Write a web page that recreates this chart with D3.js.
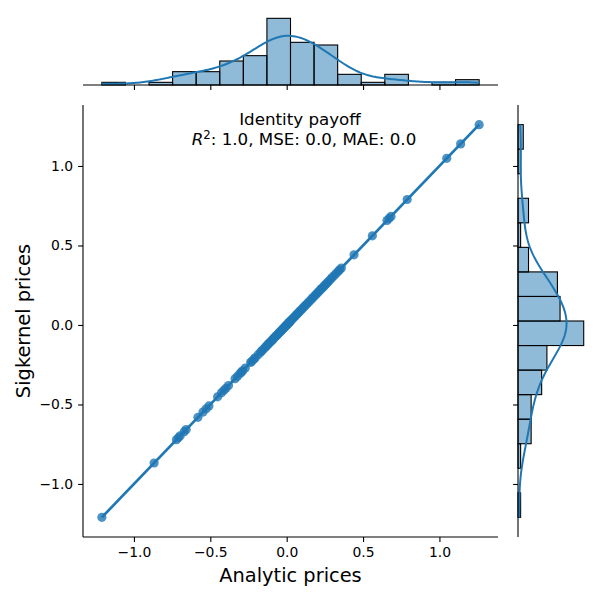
<!DOCTYPE html>
<html>
<head>
<meta charset="utf-8">
<script src="https://cdn.jsdelivr.net/npm/d3@7"></script>
<style>
body { margin: 0; background: #fff; }
text { font-family: "DejaVu Sans", sans-serif; }
</style>
</head>
<body>
<div id="container"></div>
<script>
var analyticPrices = [
	-1.210, -0.868,
	-0.722, -0.709, -0.697, -0.671, -0.658,
	-0.581, -0.548, -0.527, -0.509, -0.452,
	-0.427, -0.411, -0.398, -0.381, -0.338, -0.322, -0.305, -0.296, -0.288,
	-0.271, -0.236, -0.228, -0.214, -0.206, -0.187, -0.171, -0.162, -0.153, -0.141, -0.133,
	-0.124, -0.117, -0.109, -0.102, -0.094, -0.088, -0.079, -0.071, -0.066, -0.058, -0.051, -0.044,
	-0.038, -0.031, -0.024, -0.019, -0.013, -0.008, -0.003, 0.002, 0.006, 0.011, 0.015, 0.019, 0.023,
	0.031, 0.039, 0.048, 0.056, 0.064, 0.072, 0.081, 0.089, 0.098, 0.108, 0.117, 0.127, 0.138, 0.149, 0.161, 0.172,
	0.184, 0.193, 0.203, 0.212, 0.221, 0.229, 0.238, 0.247, 0.256, 0.266, 0.275, 0.287, 0.298, 0.311, 0.324,
	0.338, 0.347, 0.358, 0.441,
	0.561,
	0.657, 0.671, 0.683, 0.789,
	1.048,
	1.139, 1.260
];
var sigkernelPrices = [
	-1.210, -0.868,
	-0.722, -0.709, -0.697, -0.671, -0.658,
	-0.581, -0.548, -0.527, -0.509, -0.452,
	-0.427, -0.411, -0.398, -0.381, -0.338, -0.322, -0.305, -0.296, -0.288,
	-0.271, -0.236, -0.228, -0.214, -0.206, -0.187, -0.171, -0.162, -0.153, -0.141, -0.133,
	-0.124, -0.117, -0.109, -0.102, -0.094, -0.088, -0.079, -0.071, -0.066, -0.058, -0.051, -0.044,
	-0.038, -0.031, -0.024, -0.019, -0.013, -0.008, -0.003, 0.002, 0.006, 0.011, 0.015, 0.019, 0.023,
	0.031, 0.039, 0.048, 0.056, 0.064, 0.072, 0.081, 0.089, 0.098, 0.108, 0.117, 0.127, 0.138, 0.149, 0.161, 0.172,
	0.184, 0.193, 0.203, 0.212, 0.221, 0.229, 0.238, 0.247, 0.256, 0.266, 0.275, 0.287, 0.298, 0.311, 0.324,
	0.338, 0.347, 0.358, 0.441,
	0.561,
	0.657, 0.671, 0.683, 0.789,
	1.048,
	1.139, 1.260
];
var xTicks = [-1.0, -0.5, 0.0, 0.5, 1.0];
var yTicks = [-1.0, -0.5, 0.0, 0.5, 1.0];
var nBins = 16;
var titleText = 'Identity payoff';
var metrics = { r2: '1.0', mse: '0.0', mae: '0.0' };

var blue = '#1f77b4';
var tickFont = 13.9, labelFont = 19.4, titleFont = 16.7;

var main = { left: 83, right: 498, top: 105, bottom: 537 };
var topMarg = { top: 15, bottom: 85 };
var rightMarg = { left: 518, right: 587 };

var svg = d3.select('#container').append('svg')
	.attr('width', 600)
	.attr('height', 600);

function padExtent(v) {
	var e = d3.extent(v), p = (e[1] - e[0]) * 0.05;
	return [e[0] - p, e[1] + p];
}

function makeBins(v) {
	var e = d3.extent(v), w = (e[1] - e[0]) / nBins;
	return d3.bin()
		.domain(e)
		.thresholds(d3.range(1, nBins).map(function(i) { return e[0] + i * w; }))(v);
}

// gaussian kde, scott bandwidth, scaled to counts
function kde(v, binW) {
	var n = v.length, bw = d3.deviation(v) * Math.pow(n, -0.2);
	var e = d3.extent(v);
	return d3.range(200).map(function(i) {
		var t = e[0] + i * (e[1] - e[0]) / 199;
		var s = d3.sum(v, function(d) { var z = (t - d) / bw; return Math.exp(-0.5 * z * z); });
		return [t, s / (n * bw * Math.sqrt(2 * Math.PI)) * n * binW];
	});
}

var x = d3.scaleLinear().domain(padExtent(analyticPrices)).range([main.left, main.right]);
var y = d3.scaleLinear().domain(padExtent(sigkernelPrices)).range([main.bottom, main.top]);

function styleAxis(ax) {
	ax.select('.domain').attr('stroke', '#000').attr('stroke-width', 1.1);
	ax.selectAll('.tick line').attr('stroke', '#000').attr('stroke-width', 1.1);
	ax.selectAll('.tick text').attr('fill', '#000').style('font-size', tickFont + 'px');
}

// ---- main scatter ----
var xAxis = svg.append('g')
	.attr('transform', 'translate(0,' + main.bottom + ')')
	.call(d3.axisBottom(x).tickValues(xTicks).tickSize(4.9).tickPadding(4.9)
		.tickSizeOuter(0).tickFormat(d3.format('.1f')));
xAxis.select('.domain').attr('d', 'M' + main.left + ',0H' + main.right);
styleAxis(xAxis);

var yAxis = svg.append('g')
	.attr('transform', 'translate(' + main.left + ',0)')
	.call(d3.axisLeft(y).tickValues(yTicks).tickSize(4.9).tickPadding(4.9)
		.tickSizeOuter(0).tickFormat(d3.format('.1f')));
yAxis.select('.domain').attr('d', 'M0,' + main.top + 'V' + main.bottom);
styleAxis(yAxis);

svg.append('g').selectAll('circle')
	.data(analyticPrices)
	.enter().append('circle')
	.attr('cx', function(d) { return x(d); })
	.attr('cy', function(d, i) { return y(sigkernelPrices[i]); })
	.attr('r', 4.6)
	.style('fill', blue)
	.style('fill-opacity', 0.8);

// least squares fit
var mx = d3.mean(analyticPrices), my = d3.mean(sigkernelPrices);
var sxy = d3.sum(analyticPrices, function(d, i) { return (d - mx) * (sigkernelPrices[i] - my); });
var sxx = d3.sum(analyticPrices, function(d) { return (d - mx) * (d - mx); });
var slope = sxy / sxx, icpt = my - slope * mx;
var xr = d3.extent(analyticPrices);

svg.append('line')
	.attr('x1', x(xr[0])).attr('y1', y(icpt + slope * xr[0]))
	.attr('x2', x(xr[1])).attr('y2', y(icpt + slope * xr[1]))
	.attr('stroke', blue)
	.attr('stroke-width', 2.7);

// ---- top marginal ----
var xBins = makeBins(analyticPrices);
var xBinW = xBins[0].x1 - xBins[0].x0;
var cTop = d3.scaleLinear()
	.domain([0, d3.max(xBins, function(b) { return b.length; }) * 1.05])
	.range([topMarg.bottom, topMarg.top]);

svg.append('g').selectAll('rect')
	.data(xBins)
	.enter().append('rect')
	.attr('x', function(b) { return x(b.x0); })
	.attr('width', function(b) { return x(b.x1) - x(b.x0); })
	.attr('y', function(b) { return cTop(b.length); })
	.attr('height', function(b) { return cTop(0) - cTop(b.length); })
	.style('fill', blue)
	.style('fill-opacity', 0.5)
	.attr('stroke', '#000')
	.attr('stroke-width', 1.1);

svg.append('path')
	.datum(kde(analyticPrices, xBinW))
	.attr('fill', 'none')
	.attr('stroke', blue)
	.attr('stroke-width', 2)
	.attr('d', d3.line().x(function(d) { return x(d[0]); }).y(function(d) { return cTop(d[1]); }));

var topAxis = svg.append('g')
	.attr('transform', 'translate(0,' + topMarg.bottom + ')')
	.call(d3.axisBottom(x).tickValues(xTicks).tickSize(4.9).tickSizeOuter(0).tickFormat(''));
topAxis.select('.domain').attr('d', 'M' + main.left + ',0H' + main.right);
styleAxis(topAxis);

// ---- right marginal ----
var yBins = makeBins(sigkernelPrices);
var yBinW = yBins[0].x1 - yBins[0].x0;
var cRight = d3.scaleLinear()
	.domain([0, d3.max(yBins, function(b) { return b.length; }) * 1.05])
	.range([rightMarg.left, rightMarg.right]);

svg.append('g').selectAll('rect')
	.data(yBins)
	.enter().append('rect')
	.attr('x', cRight(0))
	.attr('width', function(b) { return cRight(b.length) - cRight(0); })
	.attr('y', function(b) { return y(b.x1); })
	.attr('height', function(b) { return y(b.x0) - y(b.x1); })
	.style('fill', blue)
	.style('fill-opacity', 0.5)
	.attr('stroke', '#000')
	.attr('stroke-width', 1.1);

svg.append('path')
	.datum(kde(sigkernelPrices, yBinW))
	.attr('fill', 'none')
	.attr('stroke', blue)
	.attr('stroke-width', 2)
	.attr('d', d3.line().x(function(d) { return cRight(d[1]); }).y(function(d) { return y(d[0]); }));

var rightAxis = svg.append('g')
	.attr('transform', 'translate(' + rightMarg.left + ',0)')
	.call(d3.axisLeft(y).tickValues(yTicks).tickSize(4.9).tickSizeOuter(0).tickFormat(''));
rightAxis.select('.domain').attr('d', 'M0,' + main.top + 'V' + main.bottom);
styleAxis(rightAxis);

// ---- labels ----
svg.append('text')
	.attr('x', (main.left + main.right) / 2)
	.attr('y', 582)
	.attr('text-anchor', 'middle')
	.style('font-size', labelFont + 'px')
	.text('Analytic prices');

svg.append('text')
	.attr('transform', 'translate(29.5,' + (main.top + main.bottom) / 2 + ') rotate(-90)')
	.attr('text-anchor', 'middle')
	.style('font-size', labelFont + 'px')
	.text('Sigkernel prices');

svg.append('text')
	.attr('x', 300)
	.attr('y', 125)
	.attr('text-anchor', 'middle')
	.style('font-size', titleFont + 'px')
	.text(titleText);

var sub = svg.append('text')
	.attr('x', 304)
	.attr('y', 145)
	.attr('text-anchor', 'middle')
	.style('font-size', titleFont + 'px');
sub.append('tspan').style('font-style', 'italic').text('R');
sub.append('tspan').attr('dy', -6.5).style('font-size', (titleFont * 0.7) + 'px').text('2');
sub.append('tspan').attr('dy', 6.5)
	.text(': ' + metrics.r2 + ', MSE: ' + metrics.mse + ', MAE: ' + metrics.mae);
</script>
</body>
</html>
